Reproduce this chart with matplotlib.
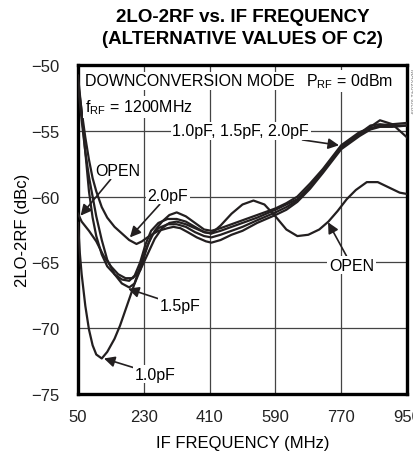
import matplotlib
matplotlib.use("Agg")
import matplotlib.pyplot as plt

# ============================
# DATOS
# ============================
f_10 = [50, 55, 60, 70, 80, 90, 100, 115, 130, 150, 165, 180, 200, 220, 240, 260, 280, 300, 320,
        345, 370, 395, 415, 440, 470, 500, 540, 590, 620, 650, 685, 720, 770, 820, 850, 876, 910, 950]
v_10 = [-62.0, -64.3, -65.9, -68.3, -70.1, -71.3, -72.0, -72.3, -71.8, -70.8, -69.8, -68.6, -67.0,
        -65.3, -63.7, -62.6, -61.9, -61.4, -61.2, -61.5, -62.0, -62.5, -62.6, -62.4, -62.1, -61.8,
        -61.4, -60.9, -60.5, -60.0, -59.0, -57.9, -56.1, -55.1, -54.8, -54.6, -54.5, -54.4]

f_15 = [50, 60, 70, 80, 90, 100, 115, 130, 150, 170, 190, 205, 220, 235, 250, 270, 295, 320,
        345, 370, 395, 415, 440, 470, 500, 540, 590, 620, 650, 685, 720, 770, 820, 850, 876, 910, 950]
v_15 = [-51.5, -54.2, -56.6, -58.5, -60.0, -61.5, -63.3, -64.8, -65.9, -66.6, -66.9, -66.6, -65.6,
        -64.2, -63.0, -62.4, -62.1, -62.1, -62.3, -62.7, -63.0, -63.1, -62.9, -62.6, -62.3, -61.8,
        -61.2, -60.8, -60.3, -59.3, -58.1, -56.3, -55.3, -54.7, -54.2, -54.5, -55.5]

f_20 = [50, 60, 70, 80, 90, 100, 115, 130, 150, 170, 190, 210, 225, 245, 270, 295, 311, 330,
        350, 375, 400, 415, 440, 470, 500, 540, 590, 620, 650, 685, 720, 770, 820, 850, 876, 910, 950]
v_20 = [-51.3, -53.5, -55.5, -57.2, -58.6, -59.6, -60.8, -61.6, -62.3, -62.8, -63.3, -63.6, -63.4,
        -63.0, -62.6, -62.4, -62.3, -62.4, -62.7, -63.1, -63.4, -63.5, -63.3, -62.9, -62.6, -62.0,
        -61.4, -61.0, -60.4, -59.4, -58.2, -56.4, -55.4, -54.9, -54.7, -54.7, -54.6]

f_x = [50, 60, 70, 80, 90, 100, 115, 130, 150, 170, 190, 205, 220, 235, 250, 270, 295, 320,
       345, 370, 395, 415, 440, 470, 500, 540, 590, 620, 650, 685, 720, 770, 820, 850, 876, 910, 950]
v_x = [-50.8, -53.6, -56.6, -59.6, -61.6, -63.0, -64.4, -65.3, -65.9, -66.3, -66.4, -66.0, -65.0,
       -63.6, -62.6, -62.0, -61.7, -61.7, -61.9, -62.3, -62.7, -62.8, -62.6, -62.3, -62.0, -61.6,
       -61.0, -60.6, -60.2, -59.2, -58.0, -56.2, -55.2, -54.6, -54.5, -54.6, -54.6]

f_open = [50, 60, 80, 100, 120, 140, 160, 180, 200, 220, 240, 260, 280, 300, 320, 345, 370, 395,
          415, 440, 470, 500, 530, 560, 590, 620, 650, 680, 710, 735, 760, 785, 810, 840, 870, 900, 930, 950]
v_open = [-61.3, -61.9, -62.6, -63.4, -64.5, -65.3, -65.9, -66.2, -66.2, -65.6, -64.4, -63.2, -62.4,
          -62.0, -61.9, -62.1, -62.4, -62.7, -62.8, -62.2, -61.3, -60.6, -60.3, -60.6, -61.5, -62.5,
          -63.0, -62.9, -62.5, -61.9, -61.1, -60.2, -59.5, -58.9, -58.9, -59.3, -59.7, -59.8]

x_ticks = [50, 230, 410, 590, 770, 950]
y_ticks = [-75, -70, -65, -60, -55, -50]

# ============================
# FUENTES
# ============================
plt.rcParams["font.family"] = ["Liberation Sans", "DejaVu Sans"]
plt.rcParams["mathtext.fontset"] = "custom"
plt.rcParams["mathtext.rm"] = "Liberation Sans"
plt.rcParams["mathtext.it"] = "Liberation Sans"

color_linea = "#231f20"
tam = 11.5

# ============================
# GRAFICADO
# ============================
fig = plt.figure(figsize=(4.14, 4.56), dpi=100)
ax = fig.add_axes([78 / 414, 1 - 395 / 456, 329 / 414, 329 / 456])

for f, v in [(f_open, v_open), (f_10, v_10), (f_x, v_x), (f_15, v_15), (f_20, v_20)]:
    ax.plot(f, v, color=color_linea, lw=1.6, solid_joinstyle="round", zorder=3)

ax.set_xlim(50, 950)
ax.set_ylim(-75, -50)
ax.set_xticks(x_ticks)
ax.set_yticks(y_ticks)
ax.tick_params(length=0, labelsize=12, colors="#222222")
ax.tick_params(axis="x", pad=11)
ax.tick_params(axis="y", pad=13)
ax.grid(True, color="#444444", lw=0.9, zorder=1)
for s in ax.spines.values():
    s.set_linewidth(2.4)
    s.set_color("black")

ax.set_xlabel("IF FREQUENCY (MHz)", fontsize=12, labelpad=8)
ax.set_ylabel("2LO-2RF (dBc)", fontsize=12, labelpad=1)

fig.text(0.586, 0.962, "2LO-2RF vs. IF FREQUENCY", ha="center", va="center",
         fontsize=13.5, fontweight="bold")
fig.text(0.586, 0.914, "(ALTERNATIVE VALUES OF C2)", ha="center", va="center",
         fontsize=13.5, fontweight="bold")

caja = dict(boxstyle="square,pad=0.1", fc="white", ec="none")
ax.text(69, -51.2, "DOWNCONVERSION MODE", fontsize=tam, va="center", bbox=caja, zorder=4)
ax.text(69, -53.2, r"$\mathrm{f_{RF}}$ = 1200MHz", fontsize=tam, va="center", bbox=caja, zorder=4)
ax.text(911, -51.2, r"$\mathrm{P_{RF}}$ = 0dBm", fontsize=tam, va="center", ha="right",
        bbox=caja, zorder=4)

flecha = dict(arrowstyle="-|>", color=color_linea, lw=1.2, mutation_scale=16,
              shrinkA=0, shrinkB=0)
etiquetas = [
    ("1.0pF, 1.5pF, 2.0pF", (764, -56.1), (495, -55.0)),
    ("OPEN", (57, -61.45), (160, -58.0)),
    ("2.0pF", (192, -63.1), (296, -59.9)),
    ("OPEN", (734, -61.95), (798, -65.2)),
    ("1.5pF", (187, -67.0), (329, -68.3)),
    ("1.0pF", (121, -72.3), (261, -73.5)),
]
for txt, punta, pos in etiquetas:
    ax.annotate(txt, xy=punta, xytext=pos, fontsize=tam, ha="center", va="center",
                bbox=caja, arrowprops=flecha, zorder=5)

fig.text(0.993, 0.80, "MAX2041 toc09", rotation=270, fontsize=4.5, color="#777777",
         ha="center", va="center")

fig.savefig("out.png", dpi=100)
